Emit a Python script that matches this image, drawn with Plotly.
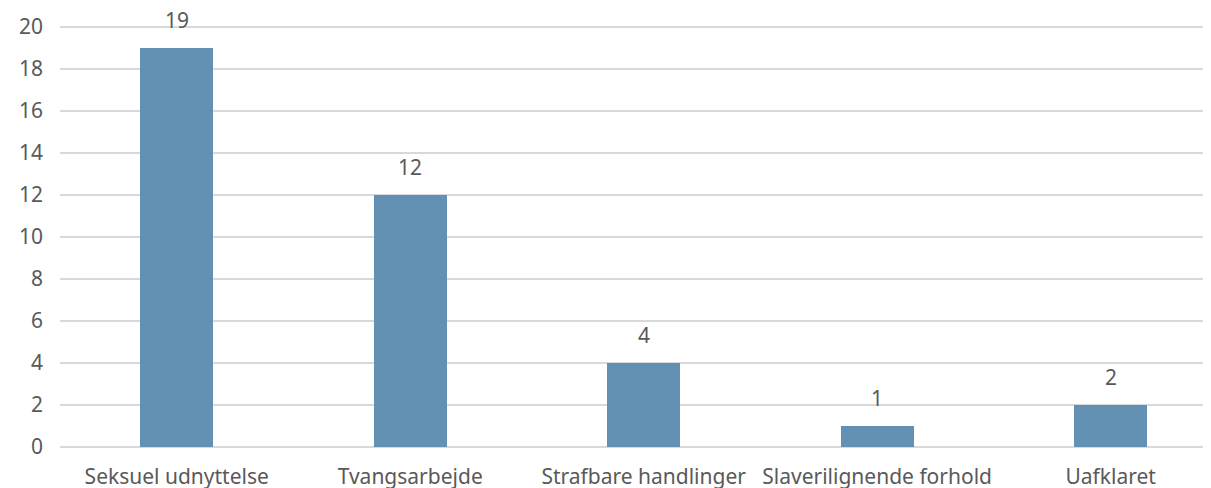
import plotly.graph_objects as go

categories = ["Seksuel udnyttelse", "Tvangsarbejde", "Strafbare handlinger", "Slaverilignende forhold", "Uafklaret"]
values = [19, 12, 4, 1, 2]
y_ticks = [0, 2, 4, 6, 8, 10, 12, 14, 16, 18, 20]

text_color = "#595959"
font_family = "Noto Sans"
fsize = 21

fig = go.Figure()
fig.add_trace(go.Bar(
    x=categories, y=values,
    marker=dict(color="#6391b3", line=dict(width=0)),
    width=0.313,
    hoverinfo="x+y",
))

for c, v in zip(categories, values):
    fig.add_annotation(x=c, y=v, text=str(v), showarrow=False, yanchor="bottom",
                       yshift=12, font=dict(size=fsize, color=text_color, family=font_family))

fig.update_layout(
    width=1211, height=488,
    margin=dict(l=52, r=8, t=0, b=49),
    paper_bgcolor="white", plot_bgcolor="white",
    showlegend=False,
    font=dict(family=font_family, size=fsize, color=text_color),
    bargap=0,
)
fig.update_xaxes(
    range=[-0.5, 4.43],
    showgrid=False, zeroline=False, showline=False,
    ticks="", ticklabelstandoff=15,
    tickfont=dict(size=fsize, color=text_color),
)
fig.update_yaxes(
    range=[0, 20.905],
    tickvals=y_ticks,
    showgrid=True, gridcolor="#d9d9d9", gridwidth=2,
    zeroline=True, zerolinecolor="#d9d9d9", zerolinewidth=2,
    showline=False, ticks="", ticklabelstandoff=16,
    tickfont=dict(size=fsize, color=text_color),
)

fig.write_html("out.html")
